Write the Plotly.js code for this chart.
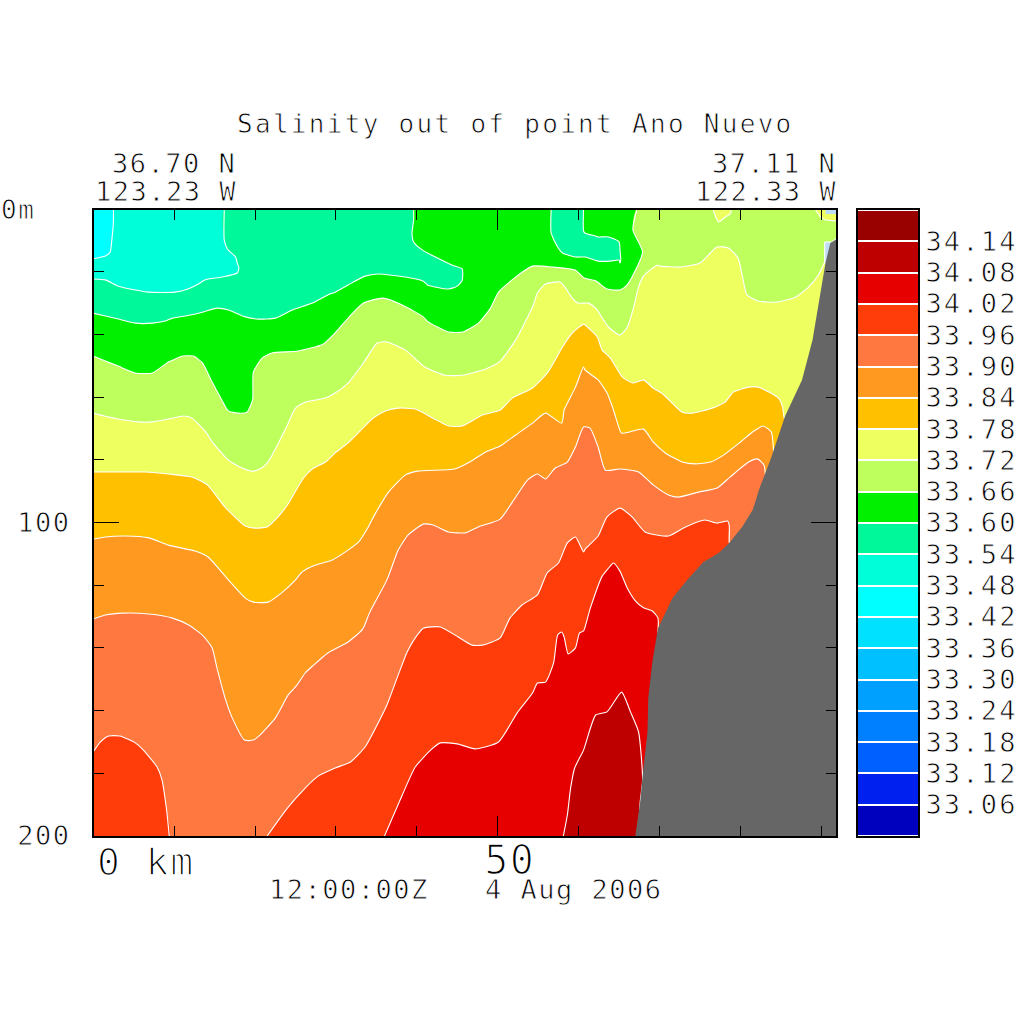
<!DOCTYPE html>
<html>
<head>
<meta charset="utf-8">
<script src="https://cdn.plot.ly/plotly-3.0.1.min.js"></script>
<style>
html,body{margin:0;padding:0;background:#fff}
.annotation-text,.xtick text,.ytick text,.y2tick text{stroke:#fff;stroke-width:0.8px;letter-spacing:1.5px}
.y2tick text{letter-spacing:2.2px}
.annotation[data-index="0"] text{letter-spacing:2.3px}
.annotation[data-index="6"] text,.xtick text{stroke-width:1.5px}
</style>
</head>
<body>
<div id="chart" style="width:1024px;height:1024px"></div>
<script>
const XMAX = 91.9, YMAX = 200;

const levels = [33.06,33.12,33.18,33.24,33.30,33.36,33.42,33.48,33.54,33.60,33.66,33.72,33.78,33.84,33.90,33.96,34.02,34.08,34.14];
const bandEdges = [33.00,33.06,33.12,33.18,33.24,33.30,33.36,33.42,33.48,33.54,33.60,33.66,33.72,33.78,33.84,33.90,33.96,34.02,34.08,34.14,34.20];
const bandColors = ['#0000BF','#0020F0','#0060FF','#0080FF','#00A0FF','#00C0FF','#00E0FF','#00FFFF','#00FFD8','#00F89A','#00F000','#BEFF5E','#EEFF60','#FFC000','#FF9920','#FF7840','#FF3D0A','#E60000','#BF0000','#990000'];

// Isohaline depth readings: distance along section (km), depth (m)
const km3348 = [2.5,2.5,2.3,2.1,1.5,0];
const m3348  = [0,4.1,9.9,13.7,15,15.9];

const km3354 = [0,1.5,3.1,5.2,6.8,10.1,11.7,13,13.8,15.9,17.8,18,17.8,17.6,16.6,16.2,16.2];
const m3354  = [22.3,22.6,24.6,25.8,26.5,26.5,25.5,23.9,22.6,21.7,20.4,18.8,17.2,15.3,12.8,9.9,0];

const km3360 = [0,1.5,3.1,5.2,7.3,8.9,9.8,11.4,13.5,15.3,16.7,18.8,20.4,22.5,24.6,27.1,29,29.9,31.5,33.6,35.2,38.6,40.8,41.3,43.9,45,45.6,45.6,44.4,42.3,40.7,39.6,39.4,39.6,39.6];
const m3360  = [33.2,34.1,35.1,36.4,36.4,35.7,34.8,34.1,32.9,31.6,32.2,34.4,35.1,34.8,32.2,30,27.4,26.5,24.2,21.4,20.7,21.7,23,24.2,25.5,24.6,22.7,19.1,17.9,15.3,13.1,10.5,7.7,3.5,0];

const km3360b = [56.6,56.6,57.4,58,59.6,60.8,62.4,63.9,65,65.1,65.2,65.1,65,63.7,62.4,62.1,60.8,60.6,60.6];
const m3360b  = [0,7.7,12.1,14,15.3,15.3,16.6,16.6,16.3,17.2,16.3,13.1,10.5,8.9,8.9,8.6,7.7,7,0];

const km3366 = [0,1.5,3.1,5.2,7.3,9.3,11.1,12.4,13.5,14.7,15.9,16.7,17.9,19,19.7,19.8,20.9,22.1,25.3,28.4,29.9,31.5,33.4,35.8,38.2,40.8,41.4,43.9,45.7,47.6,49.1,50.1,52.2,54.3,56.7,59.6,60.7,62.1,63.5,65.1,66,67.9,66.7,67.2];
const m3366  = [46.9,48.5,50.1,52.3,52.3,48.8,46.9,46.9,49.1,55.2,60.9,64.4,65.1,64.8,60.9,52,47.5,45.9,45.3,43.1,39.5,34.8,30,28.4,30.6,34.4,36,39.2,39.2,36.4,31.6,26.5,21.7,18.2,18.5,19.5,22,22.9,25.5,25.8,24.2,13.7,6.7,0];

const km3372 = [0,3.1,5.6,7.3,9.3,11.1,12.2,13.9,14.8,16.7,18.4,19.7,20.6,21.6,22.9,24,25,26.2,28.7,29.9,31.5,33.4,35.1,36.3,38.6,41,43.5,45.6,48.5,50.3,52.2,53.7,54.4,54.9,55.9,57.7,58.3,59.2,59.9,61.2,62.1,63.7,65.1,66,66.8,67.4,68,69.7,70.1,72.6,75,77.1,78.5,79.7,80.2,80.8,82.1,84.5,86.8,88.4,89.6,90.5];
const m3372  = [65.1,67,67.9,67.9,67,66,66.7,71.1,74.6,80.1,82.6,83.6,82.9,80.7,74.6,68.9,63.5,61.6,60.3,58.7,55.5,49.1,42.7,42.4,45,50.4,53,53,51,48.5,41.8,34.4,30.6,26.8,23.9,23.3,24.9,28.4,30,30,31.6,37.7,40.2,37.7,31.3,24.9,21.4,17.9,18.2,18.5,17.2,12.1,12.4,15.6,21.1,27.4,29.3,29.7,28.1,24.9,21.1,16.3];

const km3372b = [76.6,77,77.3,78.1,78.8,78.8];
const m3372b  = [0,2.9,4.1,2.6,1.3,0];
const km3372c = [89.2,89.9,90.5,91.8,91.9,91.9];
const m3372c  = [0,2.6,3.5,3.8,3.8,0];

const kmPaleA = [90.5,91.9,91.9,90.5];
const mPaleA  = [0,0,1.6,1.6];
const kmPaleB = [90.4,91.3,91.8,91.9,91.9,90.4,90.4];
const mPaleB  = [10.5,10.5,9.6,9.6,17.2,17.2,10.5];

const km3378 = [0,2.7,6.4,9.3,12.2,14.1,16.3,18.8,20,21.5,22.7,24,26,27.1,28.7,29.9,31.5,34.6,36.1,37.7,39.8,42,43.9,45.6,48.1,50.3,51.8,54.3,56.2,58,59.2,60.6,60.8,62.3,62.9,63.9,65.4,66.7,68,69.2,70.4,72.8,74,76.5,78.1,79.1,81,82.2,84.7,85.2,85.4,85.7];
const m3378  = [83.9,83.9,83.9,84.5,85.5,88,95.1,101.1,101.8,101.4,98.6,94.4,85.8,82.9,80.7,77.8,74.6,66.7,64.4,63.5,63.8,66.7,69.2,69.2,65.7,64.1,60.3,57.1,52,44,39.6,36.7,37,40.8,45,47.5,53.6,55.5,54.5,57.1,59,64.8,65.1,63.5,61.6,58.4,56.8,56.8,60.3,63.2,66.7,68.9];

const km3384 = [0,1.5,4,6.9,9.3,12.6,14.2,16.7,18.8,19.8,21.6,23.4,25,25.8,27.4,29.5,31.5,32.8,34,34.9,36.5,38.6,40.1,44.7,46.3,48.5,50.3,52.2,54.3,55.9,57.9,58.2,58.6,59.6,60.6,60.8,62.4,63.5,64.3,64.8,65.3,68,69.2,70.7,72.8,74.4,76.3,77.9,80,81.5,82.8,83.8,84.1];
const m3384  = [105.3,104.6,104.3,104.9,107.2,109.1,111,118.3,124.1,125.4,125.4,122.2,118.3,115.8,113.6,112,108.8,106.2,101.4,97,90.3,84.8,83.6,82.9,81,77.5,75.6,72.1,68.3,65.1,68.3,64.1,61.9,56.8,50.4,51.4,54.5,58.7,64.1,68.3,71.5,70.2,74.3,77.8,80.7,81.3,80.7,78.5,74.3,71.1,69.2,71.1,77.5];

const km3390 = [0,1.5,3.7,6.9,9.8,11.8,13.5,14.7,15.3,16.3,17.2,18.7,19.8,20.6,22.5,24.1,25.2,26.2,27.1,29,31.5,33.3,34.2,36.3,37.7,38.9,40.8,42,43.9,46,47.6,50.3,51.8,53.7,54.9,55.9,57.1,58.6,59.6,60.6,61.4,62.4,63.3,65.1,67.4,69.2,71.1,72.3,74.8,77.1,78.7,81,82.1,82.9,83.1];
const m3390  = [130.8,129.5,128.9,129.2,130.5,132.7,135.9,140,146.4,156,162.4,169.4,169.4,167.8,162.4,155,151.8,148,145.8,141.6,138.1,134,128.5,118.3,108.8,104,100.5,100.8,103,103.3,101.4,98.9,93.5,86.4,84.5,86.1,82.6,80.7,75.9,69.5,69.9,75.9,83.3,82.9,83.9,88,91.2,91.9,90.3,89,85.5,80.7,79.7,81.7,85.5];

const km3396a = [0,0.9,1.9,3.3,5.2,6.2,7.9,8.5,9.1,9.4];
const m3396a  = [173.2,170,168.1,168.1,170.3,172.6,178,182.1,192.3,200];

const km3396 = [21.5,24,26.2,27.8,29.9,31.8,33.6,35.2,36.3,37.7,38.8,39.8,40.8,42.9,45.1,46.8,48.1,50.3,51.5,53,54.9,56.1,57.5,58.6,59.6,60.6,60.8,62.4,63.5,65.1,66.6,68.2,71.1,73.2,75.6,77.1,78.4,78.6,78.6];
const m3396  = [200,191.1,184.7,180.9,178.3,176.4,171.6,164,158.2,148.6,141.3,136.8,133.7,133.3,136.5,139.1,139.1,136.8,130.5,126.3,123.1,116.1,112.9,106.5,104.6,109.4,108.5,104.3,98.2,95.4,98.2,103,104.3,101.4,99.2,100.2,99.5,100.8,106.5];

const km3402 = [36,38.2,39.8,41.7,42.9,45,47.2,50.1,52.4,54.3,54.9,55.9,56.9,57.4,57.9,58.2,58.7,59.6,60.1,60.6,61.4,62.9,63.7,64.3,65.1,66,67,68,69.1,69.8,69.8];
const m3402  = [200,186.9,178,172.6,170.3,170.6,172.2,170,160.7,154.4,151.2,150.9,144.8,135.9,134.9,136.5,141.9,140,135.2,134.6,127.6,117.1,114.5,112.9,115.5,120.9,125,127.2,128.2,130.5,135.2];

const km3408 = [58.1,58.6,59,59.5,60.6,62.1,63.5,65.3,66.4,67.4,67.9,67.6,67.4];
const m3408  = [200,193.3,184.7,178.3,172.6,161.4,160.4,154.1,160.4,166.8,182.1,189.2,200];

const kmLand = [67,67.6,68,68.5,68.6,69.1,69.8,70.7,71.6,73.4,75.4,77.3,78.6,80.2,81.5,82.4,83.7,85.5,87.6,88.9,89.9,90.5,91.1,91.8,91.9];
const mLand  = [200,189.2,178.3,166.8,156,144.5,133.7,128.9,124.1,118.3,112.6,109.7,106.5,101.4,96,88.7,80,66.1,54.5,41.8,25.8,17.2,10.8,9.6,9.6];

const topTexts = ['Salinity out of point Ano Nuevo','36.70 N','123.23 W','37.11 N','122.33 W','0m','0 km','12:00:00Z','4 Aug 2006'];

const PALE = '#BFDCF5', LAND = '#666666';
const OUT = 8;   // how far a closing edge runs outside the clipped plot area
const band = v => bandColors[levels.indexOf(v) + 1];
const traces = [];

function region(xs, ys, color, tailX, tailY, line, smooth) {
  const shape = smooth ? {shape:'spline',smoothing:0.55} : {};
  traces.push({type:'scatter', mode:'lines', x:xs.concat(tailX), y:ys.concat(tailY), fill:'toself',
    fillcolor:color, line:Object.assign({width:0,color:color},shape), hoverinfo:'skip', showlegend:false});
  if (line) traces.push({type:'scatter', mode:'lines', x:xs, y:ys,
    line:Object.assign({color:'#fff',width:1.1},shape), hoverinfo:'skip', showlegend:false});
}
// Area on the deep side of an isohaline: closes along the right and bottom of the section
function deep(xs, ys, color) {
  const startsLeft = xs[0] === 0;
  const last = ys[ys.length-1];
  const y0 = last <= 0 ? -OUT : last;
  region(xs, ys, color,
    startsLeft ? [XMAX+OUT,XMAX+OUT,-OUT] : [XMAX+OUT,XMAX+OUT],
    startsLeft ? [y0,YMAX+15,YMAX+15] : [y0,YMAX+15], true, true);
}

region([-OUT,XMAX+OUT,XMAX+OUT,-OUT],[-OUT,-OUT,YMAX+15,YMAX+15],band(33.48),[],[],false,false);
region(km3348,m3348,band(33.42),[-OUT],[-OUT],true,true);
deep(km3354,m3354,band(33.54));
deep(km3360,m3360,band(33.60));
region(km3360b,m3360b,band(33.54),[],[],true,true);
deep(km3366,m3366,band(33.66));
region(km3372b,m3372b,band(33.72),[],[],true,true);
region(km3372c,m3372c,band(33.72),[],[],true,false);
region(kmPaleA,mPaleA,PALE,[],[],false,false);
deep(km3372,m3372,band(33.72));
region(kmPaleB,mPaleB,PALE,[],[],true,false);
deep(km3378,m3378,band(33.78));
deep(km3384,m3384,band(33.84));
deep(km3390,m3390,band(33.90));
region(km3396a,m3396a,band(33.96),[-OUT],[YMAX+15],true,true);
deep(km3396,m3396,band(33.96));
deep(km3402,m3402,band(34.02));
region(km3408,m3408,band(34.08),[],[],true,true);
region(kmLand,mLand,LAND,[XMAX+OUT,XMAX+OUT,66.8],[9.6,YMAX+15,YMAX+15],false,false);

const scale = [];
bandColors.forEach((c,i)=>{scale.push([i/20,c]);scale.push([(i+1)/20,c]);});
traces.push({type:'heatmap', x:[0,1], y:bandEdges, z:bandColors.map((c,i)=>[i]),
  xaxis:'x2', yaxis:'y2', zmin:-0.5, zmax:19.5, colorscale:scale, showscale:false, ygap:2, hoverinfo:'skip'});

const FONT = 'DejaVu Sans Mono';
const W = 1024;
const note = (text,left,cy,size) => ({text:text, xref:'paper', yref:'paper', x:left/W, y:1-cy/W,
  xanchor:'left', yanchor:'middle', showarrow:false, align:'left', borderpad:0,
  font:{family:FONT,size:size,color:'#000'}});

const layout = {
  width:W, height:W, autosize:false, margin:{l:0,r:0,t:0,b:0,pad:0},
  paper_bgcolor:'#fff', plot_bgcolor:'#fff', showlegend:false,
  xaxis:{domain:[94/W,836/W], range:[0.1,91.8], showgrid:false, zeroline:false, showline:true, mirror:'ticks',
    linecolor:'#000', linewidth:2, tickmode:'array', tickvals:[50], ticktext:['50'], ticks:'inside', ticklen:20,
    tickwidth:1, tickcolor:'#000', ticklabelshift:12, ticklabelstandoff:-12,
    tickfont:{family:FONT,size:40,color:'#000'},
    minor:{dtick:10,tick0:0,ticks:'inside',ticklen:10,tickwidth:1,tickcolor:'#000',showgrid:false}},
  yaxis:{domain:[1-836/W,1-210/W], range:[200,0.3], showgrid:false, zeroline:false, showline:true, mirror:'ticks',
    linecolor:'#000', linewidth:2, tickmode:'array', tickvals:[100,200], ticktext:['100','200'], ticks:'inside', ticklen:25,
    tickwidth:1, tickcolor:'#000', ticklabelstandoff:16,
    tickfont:{family:FONT,size:27,color:'#000'},
    minor:{dtick:20,tick0:0,ticks:'inside',ticklen:10,tickwidth:1,tickcolor:'#000',showgrid:false}},
  xaxis2:{domain:[858/W,918/W], range:[0,1], anchor:'y2', showgrid:false, zeroline:false, showticklabels:false, ticks:'',
    showline:true, mirror:true, linecolor:'#000', linewidth:2},
  yaxis2:{domain:[1-836/W,1-210/W], range:[33.0,34.2], anchor:'x2', side:'right', showgrid:false, zeroline:false,
    showline:true, mirror:true, linecolor:'#000', linewidth:2, ticks:'', tickmode:'array',
    tickvals:levels, ticktext:levels.map(v=>v.toFixed(2)), ticklabelstandoff:0,
    tickfont:{family:FONT,size:27,color:'#000'}},
  annotations:[
    note(topTexts[0],236,124,26),
    note(topTexts[1],111,163,27),
    note(topTexts[2],94,191,27),
    note(topTexts[3],711,163,27),
    note(topTexts[4],694,191,27),
    note(topTexts[5],0,210,26),
    note(topTexts[6],96,862,38),
    note(topTexts[7],268,889,27),
    note(topTexts[8],484,889,27)
  ]
};
Plotly.newPlot('chart',traces,layout,{displayModeBar:false,staticPlot:true});
</script>
</body>
</html>
